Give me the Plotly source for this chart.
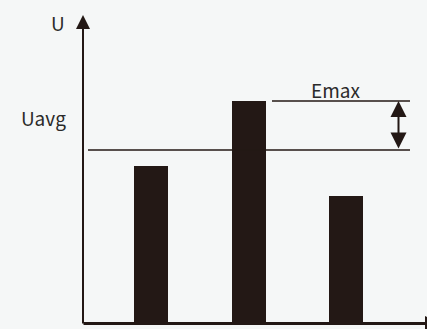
import plotly.graph_objects as go

# ---- data ----
categories = [1, 2, 3]
values = [157, 222, 127.5]
u_avg = 173
e_max = max(values)
labels = {"y": "U", "avg": "Uavg", "emax": "Emax"}

INK = "#231815"
BG = "#f5f7f7"
FONT = "Noto Sans CJK SC"

# pixel -> data helpers (layout only)
XL, XS = -0.552, 97.5
def px(x):
    return XL + x / XS
def py(y):
    return 323 - y

fig = go.Figure()
fig.add_trace(go.Bar(x=categories, y=values, width=0.349,
                     marker=dict(color=INK, line=dict(width=0)),
                     hoverinfo="skip"))

shapes = [
    dict(type="line", xref="x", yref="y", x0=px(88), x1=px(410), y0=u_avg, y1=u_avg,
         line=dict(color=INK, width=1.5)),
    dict(type="line", xref="x", yref="y", x0=px(272), x1=px(410), y0=e_max, y1=e_max,
         line=dict(color=INK, width=1.5)),
]

ann = [
    # y axis
    dict(x=px(83), y=py(15), ax=px(83), ay=py(325), xref="x", yref="y", axref="x", ayref="y",
         text="", showarrow=True, arrowhead=2, arrowsize=1.4, arrowwidth=2, arrowcolor=INK),
    # x axis
    dict(x=px(440), y=py(323.5), ax=px(82), ay=py(323.5), xref="x", yref="y", axref="x", ayref="y",
         text="", showarrow=True, arrowhead=2, arrowsize=1.0, arrowwidth=3, arrowcolor=INK),
    # Emax double arrow
    dict(x=px(398.5), y=e_max, ax=px(398.5), ay=u_avg, xref="x", yref="y", axref="x", ayref="y",
         text="", showarrow=True, arrowhead=2, startarrowhead=2, arrowside="end+start",
         arrowsize=1.6, startarrowsize=1.6, arrowwidth=2, arrowcolor=INK),
    dict(x=px(57.5), y=py(22), xref="x", yref="y", text=labels["y"], showarrow=False,
         font=dict(family=FONT, size=19, color="#2a2a2a")),
    dict(x=px(43), y=py(117), xref="x", yref="y", text=labels["avg"], showarrow=False,
         font=dict(family=FONT, size=19, color="#2a2a2a")),
    dict(x=px(335), y=py(89), xref="x", yref="y", text=labels["emax"], showarrow=False,
         font=dict(family=FONT, size=19, color="#2a2a2a")),
]

fig.update_layout(
    width=427, height=329, margin=dict(l=0, r=0, t=0, b=0),
    paper_bgcolor=BG, plot_bgcolor=BG, showlegend=False,
    xaxis=dict(range=[XL, XL + 427 / XS], visible=False, fixedrange=True),
    yaxis=dict(range=[-6, 323], visible=False, fixedrange=True),
    shapes=shapes, annotations=ann, bargap=0,
)
fig.write_html("out.html", config={"displayModeBar": False},
               post_script="document.body.style.margin='0';document.body.style.overflow='hidden';")
